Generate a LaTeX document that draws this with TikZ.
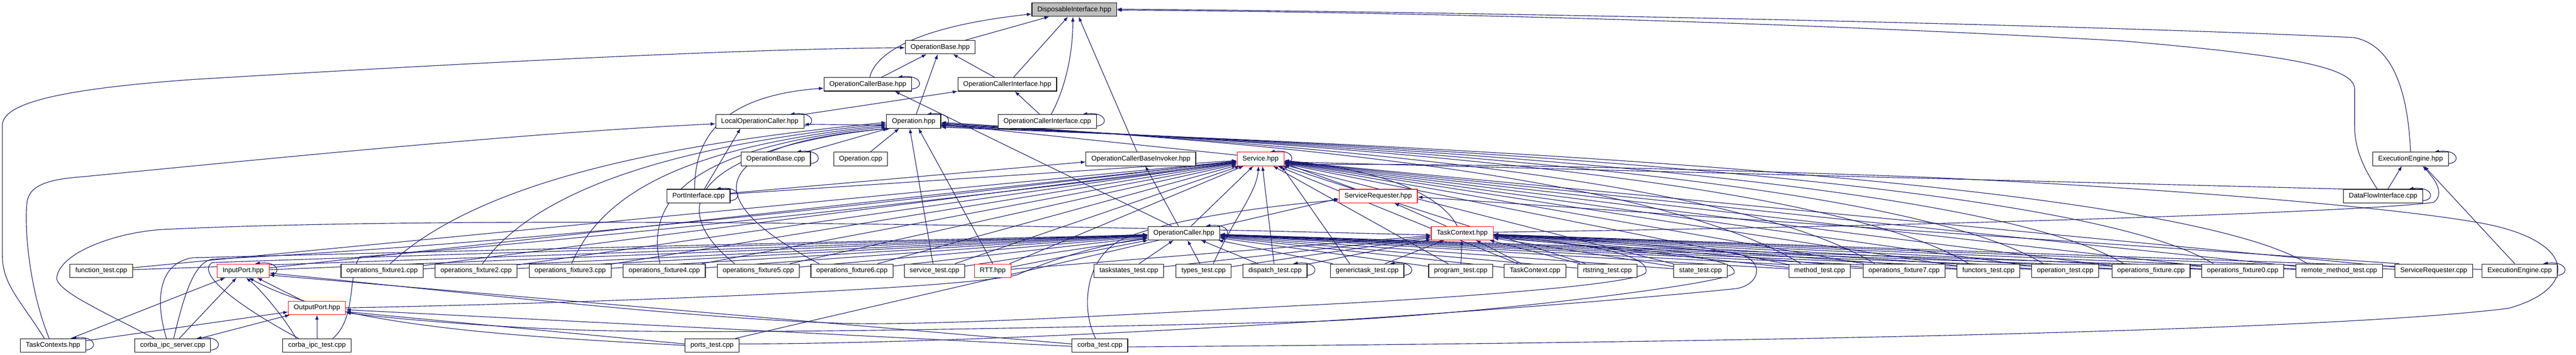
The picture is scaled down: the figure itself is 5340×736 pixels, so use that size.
\documentclass[tikz,border=0pt]{standalone}
\usepackage{fontspec}
\setmainfont{Liberation Sans}
\usetikzlibrary{arrows.meta,calc}
\definecolor{edgec}{HTML}{191970}
\pgfdeclarelayer{bg}
\pgfsetlayers{bg,main}
\newcommand\sloop[1]{\draw[edge] ($(#1.south east)+(0,5)$) .. controls +(26,2) and +(50,6) .. ($(#1.north east)+(-30,0)$);}
\begin{document}
\begin{tikzpicture}[x=0.5pt,y=0.5pt,
  box/.style={draw=black,line width=0.6pt,fill=white,minimum height=14pt,inner xsep=5.6pt,inner ysep=0pt,font=\fontsize{7.1}{8}\selectfont},
  redbox/.style={box,draw=red},
  rootbox/.style={box,fill=gray!50},
  edge/.style={draw=edgec,line width=0.6pt,-{Latex[length=5pt,width=3.6pt]}}]
\useasboundingbox (0,0) rectangle (5340,-736);
% nodes
\node[rootbox] (DI) at (2227,-20) {DisposableInterface.hpp};
\node[box] (OBh) at (1949,-98) {OperationBase.hpp};
\node[box] (OCBh) at (1799,-175) {OperationCallerBase.hpp};
\node[box] (OCIh) at (2088,-175) {OperationCallerInterface.hpp};
\node[box] (LOC) at (1575,-252) {LocalOperationCaller.hpp};
\node[box] (Oph) at (1894,-252) {Operation.hpp};
\node[box] (OCIc) at (2171,-252) {OperationCallerInterface.cpp};
\node[box] (OBc) at (1608,-330) {OperationBase.cpp};
\node[box] (Opc) at (1784,-330) {Operation.cpp};
\node[box] (OCBI) at (2365,-330) {OperationCallerBaseInvoker.hpp};
\node[redbox] (Svc) at (2613,-330) {Service.hpp};
\node[box] (EEh) at (4997,-330) {ExecutionEngine.hpp};
\node[box] (PIc) at (1448,-407) {PortInterface.cpp};
\node[redbox] (SRh) at (2857,-407) {ServiceRequester.hpp};
\node[box] (DFc) at (4940,-407) {DataFlowInterface.cpp};
\node[box] (OCh) at (2454,-484) {OperationCaller.hpp};
\node[redbox] (TCh) at (3031,-484) {TaskContext.hpp};
\node[box] (ftest) at (210,-562) {function\_test.cpp};
\node[redbox] (IP) at (504,-562) {InputPort.hpp};
\node[box] (of1) at (792,-562) {operations\_fixture1.cpp};
\node[box] (of2) at (987,-562) {operations\_fixture2.cpp};
\node[box] (of3) at (1182,-562) {operations\_fixture3.cpp};
\node[box] (of4) at (1377,-562) {operations\_fixture4.cpp};
\node[box] (of5) at (1572,-562) {operations\_fixture5.cpp};
\node[box] (of6) at (1766,-562) {operations\_fixture6.cpp};
\node[box] (svct) at (1937,-562) {service\_test.cpp};
\node[redbox] (rtt) at (2058,-562) {RTT.hpp};
\node[box] (tst) at (2340,-562) {taskstates\_test.cpp};
\node[box] (tyt) at (2495,-562) {types\_test.cpp};
\node[box] (dpt) at (2643,-562) {dispatch\_test.cpp};
\node[box] (gtt) at (2834,-562) {generictask\_test.cpp};
\node[box] (prt) at (3028,-562) {program\_test.cpp};
\node[box] (tcc) at (3182,-562) {TaskContext.cpp};
\node[box] (rst) at (3332,-562) {rtstring\_test.cpp};
\node[box] (stt) at (3525,-562) {state\_test.cpp};
\node[box] (mtt) at (3772,-562) {method\_test.cpp};
\node[box] (of7) at (3947,-562) {operations\_fixture7.cpp};
\node[box] (fnt) at (4122,-562) {functors\_test.cpp};
\node[box] (opt) at (4281,-562) {operation\_test.cpp};
\node[box] (of) at (4459,-562) {operations\_fixture.cpp};
\node[box] (of0) at (4649,-562) {operations\_fixture0.cpp};
\node[box] (rmt) at (4849,-562) {remote\_method\_test.cpp};
\node[box] (src) at (5045,-562) {ServiceRequester.cpp};
\node[box] (eec) at (5223,-562) {ExecutionEngine.cpp};
\node[redbox] (OP) at (657,-639) {OutputPort.hpp};
\node[box] (tcs) at (110,-717) {TaskContexts.hpp};
\node[box] (cis) at (358,-717) {corba\_ipc\_server.cpp};
\node[box] (cit) at (657,-717) {corba\_ipc\_test.cpp};
\node[box] (pot) at (1476,-717) {ports\_test.cpp};
\node[box] (cot) at (2280,-717) {corba\_test.cpp};
\begin{pgfonlayer}{bg}
\fill[white] (0,0) rectangle (5340,-736);
% top part
\draw[edge] (OBh) -- (DI);
\draw[edge] ($(OCBh.north)+(4,0)$) .. controls (1815,-110) and (1900,-55) .. ($(DI.west)+(0,-9)$);
\draw[edge] (OCIh) -- (DI);
\draw[edge] ($(OCIc.north)+(8,0)$) .. controls (2205,-190) and (2224,-120) .. ($(DI.south)+(-3,0)$);
\draw[edge] ($(OCBI.north)+(-8,0)$) -- ($(DI.south)+(9,0)$);
\draw[edge] (EEh.north) .. controls (4992,-200) and (4965,-95) .. (4880,-78) .. controls (4300,-50) and (3000,-24) .. ($(DI.east)+(0,1)$);
\draw[edge] ($(DFc.north)+(-12,0)$) .. controls (4900,-350) and (4881,-310) .. (4881,-260) -- (4881,-185) .. controls (4881,-140) and (4750,-115) .. (4400,-85) .. controls (3600,-40) and (2800,-24) .. ($(DI.east)+(0,-1)$);
\draw[edge] (OCBh) -- (OBh);
\draw[edge] (OCIh) -- (OBh);
\draw[edge] (Oph) -- (OBh);
\draw[edge] ($(tcs.north)+(-18,0)$) .. controls (40,-620) and (5,-590) .. (5,-530) -- (5,-260) .. controls (5,-215) and (120,-185) .. (400,-165) .. controls (900,-135) and (1500,-102) .. ($(OBh.west)+(0,-1)$);
\draw[edge] ($(tcs.north)+(-8,0)$) .. controls (60,-600) and (50,-470) .. (56,-420) .. controls (60,-385) and (100,-372) .. (170,-367) .. controls (600,-325) and (1100,-275) .. ($(LOC.west)+(0,-5)$);
\draw[edge] (LOC.north east) -- (OCIh.south west);
\draw[edge] (OCIc) -- (OCIh);
\draw[edge] ($(PIc.north)+(-8,0)$) .. controls (1440,-300) and (1480,-200) .. ($(OCBh.west)+(0,-8)$);
\draw[edge] ($(OCh.north)+(-25,0)$) -- ($(OCBh.south)+(56,0)$);
\draw[edge] ($(Oph.west)+(0,-8)$) -- ($(LOC.east)+(0,-6)$);
\draw[edge] ($(PIc.north)+(12,0)$) -- ($(LOC.south)+(-40,0)$);
\draw[edge] ($(Opc.north)+(20,0)$) -- ($(Oph.south)+(-30,0)$);
\draw[edge] ($(OBc.north east)+(-10,0)$) -- ($(Oph.south west)+(4,0)$);
\draw[edge] ($(svct.north)+(-3,0)$) -- ($(Oph.south)+(-8,0)$);
\draw[edge] (rtt.north) -- ($(Oph.south)+(10,0)$);
\draw[edge] ($(Svc.west)+(0,8)$) -- ($(Oph.east)+(0,-6)$);
\draw[edge] ($(of1.north)+(17,0)$) .. controls (1010,-360) and (1450,-292) .. ($(Oph.west)+(0,-2)$);
\draw[edge] ($(of2.north)+(13,0)$) .. controls (1130,-370) and (1470,-295) .. ($(Oph.west)+(0,-5)$);
\draw[edge] ($(of3.north)+(3,0)$) .. controls (1260,-370) and (1490,-298) .. ($(Oph.west)+(0,-8)$);
\draw[edge] ($(of4.north)+(-9,0)$) .. controls (1330,-380) and (1500,-300) .. ($(Oph.west)+(0,-11)$);
\draw[edge] ($(of5.north)+(-49,0)$) .. controls (1340,-400) and (1520,-300) .. ($(Oph.south west)+(3,0)$);
\draw[edge] ($(of6.north)+(-68,0)$) .. controls (1380,-380) and (1550,-290) .. ($(Oph.south west)+(9,0)$);
\foreach \s/\a in {mtt/-2,of7/-4,fnt/-5,opt/-7,of/-8,of0/-10,rmt/-12}{
  \draw[edge] ($(\s.north west)+(25,0)$) .. controls ($(\s.north west)+(-300,200)$) and (2450,-285) .. ($(Oph.east)+(0,\a)$);}
\draw[edge] ($(OCh.north)+(-11,0)$) -- ($(OCBI.south)+(9,0)$);
\draw[edge] ($(PIc.east)+(0,6)$) -- ($(OCBI.west)+(0,-6)$);
\draw[edge] ($(OCh.north)+(15,0)$) -- ($(Svc.south)+(-15,0)$);
\draw[edge] ($(tyt.north)+(20,0)$) .. controls (2560,-450) and (2605,-400) .. ($(Svc.south)+(-4,0)$);
\draw[edge] ($(dpt.north)+(-2,0)$) -- ($(Svc.south)+(4,0)$);
\draw[edge] ($(gtt.north)+(-36,0)$) -- ($(Svc.south east)+(-6,0)$);
\draw[edge] (tst) -- (OCh);
\draw[edge] (tyt) -- (OCh);
\draw[edge] (dpt) -- (OCh);
\draw[edge] (gtt) -- (TCh);
\draw[edge] (prt) -- (TCh);
\draw[edge] (tcc) -- (TCh);
\draw[edge] (TCh) -- (SRh);
\draw[edge] ($(TCh.north)+(-10,0)$) .. controls (3000,-430) and (2930,-360) .. ($(Svc.east)+(0,-3)$);
\draw[edge] ($(SRh.north west)+(35,0)$) -- ($(Svc.east)+(0,-9)$);
% left group to Service / OperationCaller / TaskContext
\foreach \s in {ftest,IP,of1,of2,of3,of4,of5,of6,svct,rtt}{\draw[edge] (\s) -- (OCh);}
\foreach \s in {ftest,IP,PIc,of1,of2,of3,of4,of5,of6,svct,rtt}{\draw[edge] (\s) -- (Svc);}
\foreach \s in {rtt,tst,tyt,dpt}{\draw[edge] (\s) -- (TCh);}
\draw[edge] (gtt) -- (OCh);
% right group
\foreach \s in {prt,tcc,rst,stt,mtt,of7,fnt,opt,of,of0,rmt,src}{\draw[edge] (\s) -- (Svc);}
\foreach \s in {prt,tcc,rst,stt,mtt,of7,fnt,opt,of,of0,rmt}{\draw[edge] (\s) -- (OCh);}
\foreach \s in {rst,stt,mtt,of7,fnt,opt,of,of0,rmt,src,eec}{\draw[edge] (\s) -- (TCh);}
\draw[edge] ($(src.north west)+(10,0)$) -- ($(SRh.east)+(0,-2)$);
\draw[edge] ($(DFc.north west)+(0,0)$) -- ($(Svc.east)+(0,-6)$);
\draw[edge] ($(DFc.north)+(10,0)$) -- ($(EEh.south)+(-18,0)$);
\draw[edge] ($(eec.north)+(-10,0)$) -- ($(EEh.south)+(28,0)$);
\draw[edge] ($(TCh.east)+(0,2)$) .. controls (4000,-470) and (4900,-440) .. (5045,-420) .. controls (5065,-405) and (5055,-380) .. ($(EEh.south)+(25,0)$);
% ports
\draw[edge] (tcs) -- (IP);
\draw[edge] (tcs) -- (OP);
\draw[edge] (cis) -- (IP);
\draw[edge] (cis) -- (OP);
\draw[edge] ($(cit.north)+(-43,0)$) .. controls (590,-660) and (540,-600) .. ($(IP.south)+(6,0)$);
\draw[edge] (cit.north) -- (OP.south);
\draw[edge] (OP) -- (IP);
\draw[edge] (OP.east) .. controls (1200,-630) and (2000,-600) .. (2110,-570) .. controls (2200,-530) and (2300,-505) .. ($(OCh.west)+(0,-10)$);
\draw[edge] ($(cis.north)+(-13,0)$) .. controls (320,-620) and (330,-545) .. (400,-535) .. controls (1000,-520) and (2000,-495) .. ($(OCh.west)+(0,-4)$);
\draw[edge] ($(cis.north)+(2,0)$) .. controls (380,-620) and (400,-545) .. (440,-538) .. controls (1200,-500) and (2100,-390) .. ($(Svc.west)+(0,-4)$);
\draw[edge] ($(cis.north)+(-38,0)$) .. controls (200,-640) and (110,-600) .. (118,-573) .. controls (130,-520) and (250,-480) .. (344,-476) .. controls (1000,-445) and (2300,-470) .. ($(TCh.west)+(0,-4)$);
\draw[edge] ($(cit.north)+(-38,0)$) .. controls (520,-650) and (400,-570) .. (440,-545) .. controls (1000,-525) and (2000,-495) .. ($(OCh.west)+(0,-7)$);
\draw[edge] ($(cit.north)+(33,0)$) .. controls (740,-660) and (720,-570) .. (746,-533) .. controls (1200,-500) and (2100,-400) .. ($(Svc.west)+(0,-8)$);
\draw[edge] (pot.west) .. controls (1100,-700) and (700,-680) .. ($(IP.south)+(12,0)$);
\draw[edge] ($(pot.west)+(0,3)$) -- ($(OP.east)+(0,-8)$);
\draw[edge] ($(pot.north east)+(-8,0)$) -- ($(SRh.west)+(0,-5)$);
\draw[edge] ($(pot.east)+(0,3)$) .. controls (2200,-712) and (3200,-640) .. (3600,-599) .. controls (3650,-590) and (3660,-540) .. (3600,-526) .. controls (3400,-505) and (3200,-492) .. ($(TCh.east)+(0,-4)$);
\draw[edge] ($(cot.west)+(0,3)$) -- ($(IP.east)+(0,-9)$);
\draw[edge] ($(cot.west)+(0,-2)$) -- ($(OP.east)+(0,-4)$);
\draw[edge] ($(cot.north)+(-9,0)$) .. controls (2240,-640) and (2250,-540) .. (2320,-500) .. controls (2400,-460) and (2600,-430) .. ($(SRh.west)+(0,-8)$);
\draw[edge] ($(cot.east)+(0,-3)$) .. controls (3500,-712) and (4800,-690) .. (5200,-640) .. controls (5345,-600) and (5345,-500) .. (5143,-463) .. controls (4900,-420) and (4300,-380) .. (3944,-366) .. controls (3500,-350) and (3000,-338) .. ($(Svc.east)+(0,-12)$);
\draw[edge] ($(TCh.east)+(0,-6)$) .. controls (3300,-505) and (3420,-530) .. (3412,-565) .. controls (3405,-590) and (3000,-620) .. (2700,-634) .. controls (2300,-655) and (2000,-672) .. (1800,-672) .. controls (1500,-670) and (900,-600) .. ($(IP.east)+(0,-5)$);
\draw[edge] ($(TCh.east)+(0,-9)$) .. controls (3400,-520) and (3600,-530) .. (3595,-566) .. controls (3590,-590) and (3000,-660) .. (2700,-668) .. controls (2200,-680) and (1500,-695) .. (1200,-685) .. controls (1000,-678) and (800,-660) .. ($(OP.east)+(0,-10)$);
% self loops
\foreach \n in {OCBh,OCIc,LOC,Oph,OBc,Svc,EEh,PIc,DFc,OCh,IP,dpt,gtt,eec,tcs,cis}{\sloop{\n}}
\end{pgfonlayer}
\end{tikzpicture}
\end{document}
